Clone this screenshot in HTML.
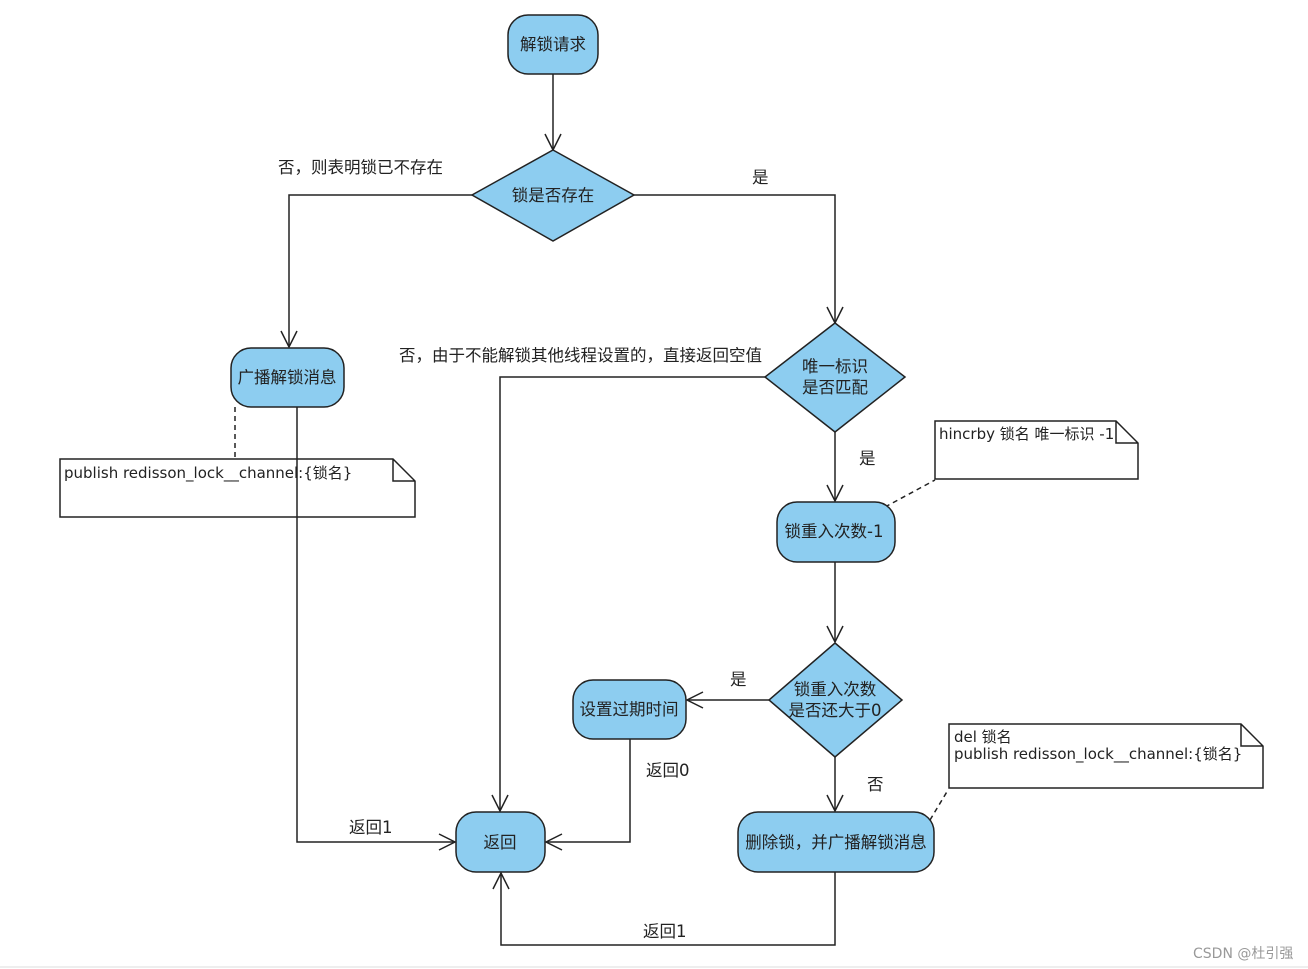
<!DOCTYPE html>
<html><head><meta charset="utf-8"><style>
html,body{margin:0;padding:0;background:#fff;}
svg{display:block;}
text{font-family:"DejaVu Sans","Noto Sans CJK SC",sans-serif;font-size:16.5px;fill:#222;}
.n{fill:#8dcdf0;stroke:#222;stroke-width:1.5;}
.l{fill:none;stroke:#222;stroke-width:1.5;}
.d{fill:none;stroke:#222;stroke-width:1.5;stroke-dasharray:5,4;}
.nt{fill:#fff;stroke:#222;stroke-width:1.5;}
.s{font-size:15px;}
</style></head><body>
<svg width="1308" height="969" viewBox="0 0 1308 969">
<defs><marker id="a" viewBox="0 0 20 20" refX="18" refY="10" markerWidth="20" markerHeight="20" markerUnits="userSpaceOnUse" orient="auto"><path d="M2,2 L18,10 L2,18" fill="none" stroke="#222" stroke-width="1.5"/></marker></defs>

<!-- notes -->
<path class="nt" d="M60,459 H393 L415,481 V517 H60 Z M393,459 V481 H415"/>
<text class="s" x="64" y="478">publish redisson_lock__channel:{锁名}</text>
<path class="nt" d="M935,421 H1116 L1138,443 V479 H935 Z M1116,421 V443 H1138"/>
<text class="s" x="939" y="439">hincrby 锁名 唯一标识 -1</text>
<path class="nt" d="M949,724 H1241 L1263,746 V788 H949 Z M1241,724 V746 H1263"/>
<text class="s" x="954" y="742">del 锁名</text>
<text class="s" x="954" y="759">publish redisson_lock__channel:{锁名}</text>

<!-- lines -->
<path class="l" d="M553,74 V150" marker-end="url(#a)"/>
<path class="l" d="M472,195 H289 V347" marker-end="url(#a)"/>
<path class="l" d="M634,195 H835 V323" marker-end="url(#a)"/>
<path class="l" d="M297,407 V842 H455" marker-end="url(#a)"/>
<path class="l" d="M765,377 H500 V811" marker-end="url(#a)"/>
<path class="l" d="M835,432 V501" marker-end="url(#a)"/>
<path class="l" d="M835,562 V642" marker-end="url(#a)"/>
<path class="l" d="M769,700 H687" marker-end="url(#a)"/>
<path class="l" d="M630,739 V842 H546" marker-end="url(#a)"/>
<path class="l" d="M835,757 V811" marker-end="url(#a)"/>
<path class="l" d="M835,872 V945 H501 V873" marker-end="url(#a)"/>
<path class="d" d="M235,407 V458"/>
<path class="d" d="M885,507 L935,480"/>
<path class="d" d="M930,820 L948,790"/>

<!-- nodes -->
<rect class="n" x="508" y="15" width="90" height="59" rx="20"/>
<text x="553" y="50" text-anchor="middle">解锁请求</text>
<polygon class="n" points="553,150 634,195 553,241 472,195"/>
<text x="553" y="201" text-anchor="middle">锁是否存在</text>
<rect class="n" x="231" y="348" width="113" height="59" rx="20"/>
<text x="287" y="383" text-anchor="middle">广播解锁消息</text>
<polygon class="n" points="835,323 905,377 835,432 765,377"/>
<text x="835" y="372" text-anchor="middle">唯一标识</text>
<text x="835" y="393" text-anchor="middle">是否匹配</text>
<rect class="n" x="777" y="502" width="118" height="60" rx="20"/>
<text x="834" y="537" text-anchor="middle">锁重入次数-1</text>
<polygon class="n" points="835,643 902,700 835,757 769,700"/>
<text x="835" y="695" text-anchor="middle">锁重入次数</text>
<text x="835" y="716" text-anchor="middle">是否还大于0</text>
<rect class="n" x="573" y="680" width="113" height="59" rx="20"/>
<text x="629" y="715" text-anchor="middle">设置过期时间</text>
<rect class="n" x="456" y="812" width="89" height="60" rx="20"/>
<text x="500" y="848" text-anchor="middle">返回</text>
<rect class="n" x="738" y="812" width="196" height="60" rx="20"/>
<text x="836" y="848" text-anchor="middle">删除锁，并广播解锁消息</text>

<!-- labels -->
<text x="278" y="173">否，则表明锁已不存在</text>
<text x="752" y="183">是</text>
<text x="399" y="361">否，由于不能解锁其他线程设置的，直接返回空值</text>
<text x="859" y="464">是</text>
<text x="730" y="685">是</text>
<text x="646" y="776">返回0</text>
<text x="867" y="790">否</text>
<text x="349" y="833">返回1</text>
<text x="643" y="937">返回1</text>
<text x="1193" y="958" style="font-size:14px;fill:#999">CSDN @杜引强</text>
<line x1="0" y1="967" x2="1308" y2="967" stroke="#ddd" stroke-width="1"/>
</svg>
</body></html>
